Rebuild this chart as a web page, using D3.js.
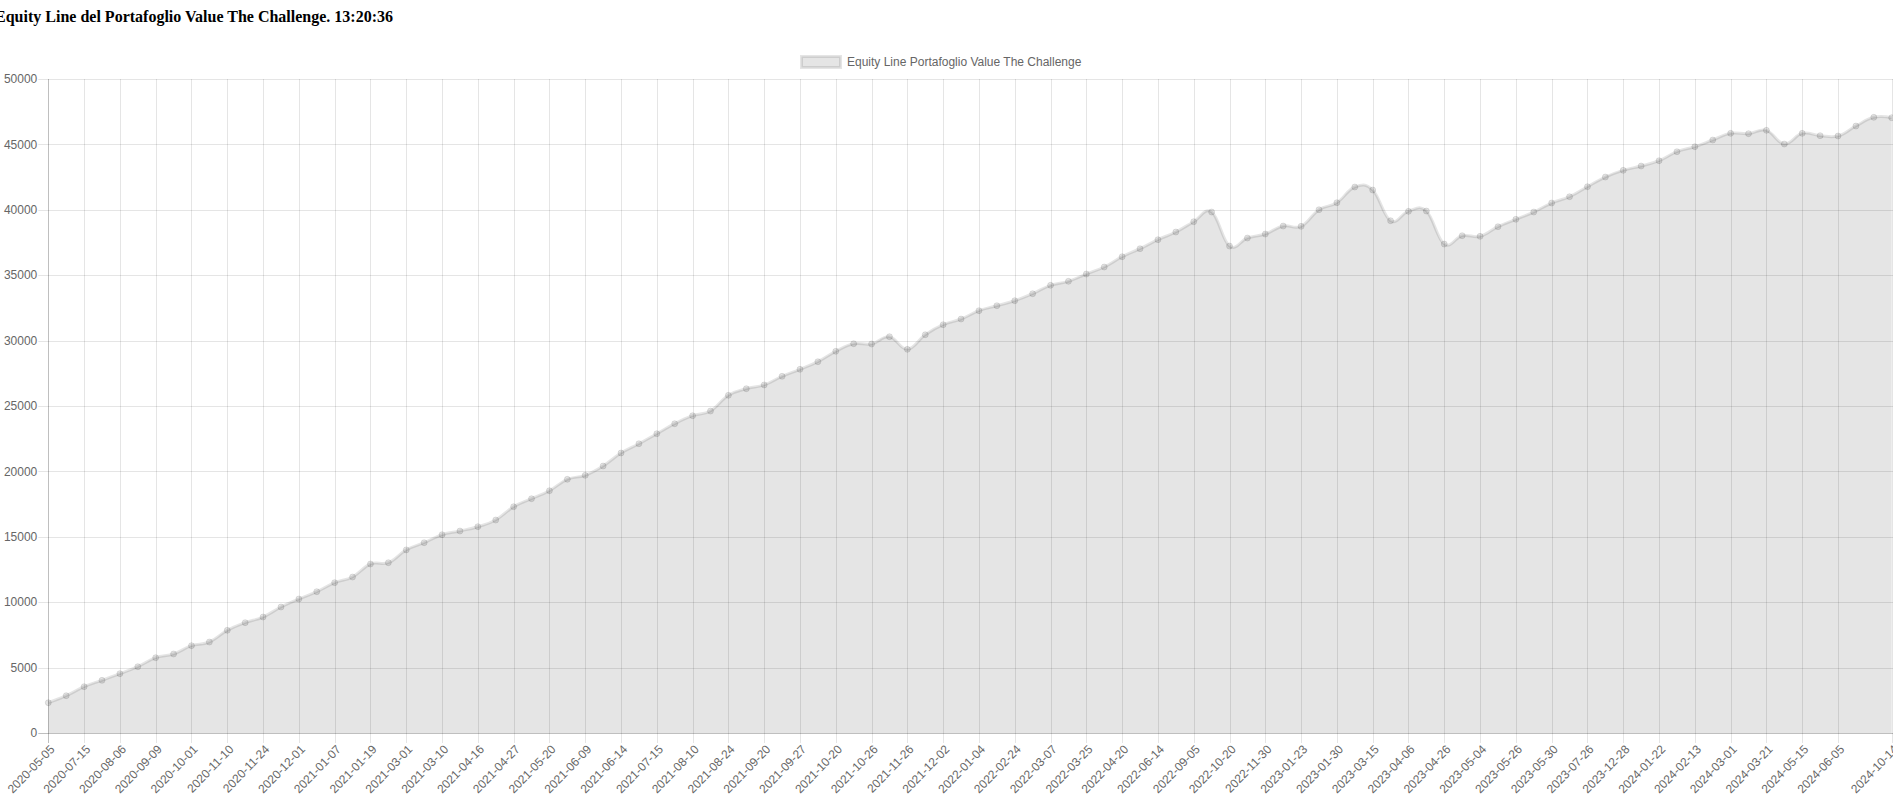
<!DOCTYPE html>
<html><head><meta charset="utf-8">
<script src="https://cdn.jsdelivr.net/npm/d3@7"></script>
<style>body{margin:0;background:#fff;overflow:hidden}</style>
</head><body><svg id="c" width="1893" height="805"></svg>
<script>
const title = "Equity Line del Portafoglio Value The Challenge. 13:20:36";
const seriesName = "Equity Line Portafoglio Value The Challenge";
const dates = [
"2020-05-05","2020-06-10","2020-07-15","2020-07-28","2020-08-06","2020-08-20","2020-09-09","2020-09-22",
"2020-10-01","2020-10-20","2020-11-10","2020-11-17","2020-11-24","2020-11-27","2020-12-01","2020-12-15",
"2021-01-07","2021-01-12","2021-01-19","2021-02-10","2021-03-01","2021-03-05","2021-03-10","2021-03-25",
"2021-04-16","2021-04-21","2021-04-27","2021-05-06","2021-05-20","2021-06-01","2021-06-09","2021-06-11",
"2021-06-14","2021-06-30","2021-07-15","2021-07-27","2021-08-10","2021-08-17","2021-08-24","2021-09-06",
"2021-09-20","2021-09-23","2021-09-27","2021-10-05","2021-10-20","2021-10-22","2021-10-26","2021-11-10",
"2021-11-26","2021-11-30","2021-12-02","2021-12-15","2022-01-04","2022-01-28","2022-02-24","2022-03-01",
"2022-03-07","2022-03-15","2022-03-25","2022-04-05","2022-04-20","2022-05-18","2022-06-14","2022-07-20",
"2022-09-05","2022-09-26","2022-10-20","2022-11-08","2022-11-30","2022-12-20","2023-01-23","2023-01-26",
"2023-01-30","2023-02-20","2023-03-15","2023-03-24","2023-04-06","2023-04-17","2023-04-26","2023-04-28",
"2023-05-04","2023-05-15","2023-05-26","2023-05-29","2023-05-30","2023-06-20","2023-07-26","2023-09-20",
"2023-12-28","2024-01-10","2024-01-22","2024-02-01","2024-02-13","2024-02-22","2024-03-01","2024-03-12",
"2024-03-21","2024-04-18","2024-05-15","2024-05-24","2024-06-05","2024-07-15","2024-09-02","2024-10-14"
];
const equity = [
2316,2852,3540,4028,4535,5070,5757,6040,6675,6957,
7850,8435,8868,9633,10244,10805,11494,11926,12920,13020,
14000,14549,15160,15443,15772,16284,17300,17912,18524,19395,
19700,20412,21406,22117,22882,23646,24258,24617,25817,26322,
26610,27270,27805,28387,29180,29762,29739,30297,29334,30450,
31215,31650,32285,32667,33050,33585,34227,34533,35090,35626,
36414,37026,37714,38302,39090,39830,37230,37842,38148,38760,
38735,40007,40542,41742,41513,39166,39884,39907,37384,38019,
37973,38707,39273,39830,40519,41001,41766,42506,43018,43347,
43752,44441,44823,45335,45846,45820,46076,45030,45846,45667,
45641,46405,47071,47040
];
const yTicks = [0,5000,10000,15000,20000,25000,30000,35000,40000,45000,50000];

const svg = d3.select("#c");
const pLeft = 48.3, pRight = 1891.7, pTop = 79, pBottom = 733;
const x = d3.scalePoint().domain(dates).range([pLeft, pRight]).padding(0);
const y = d3.scaleLinear().domain([0, 50000]).range([pBottom, pTop]);
const font = "'Liberation Sans', Arial, Helvetica, sans-serif";
const grid = "rgba(0,0,0,0.1)", zero = "rgba(0,0,0,0.25)";

// Chart.js-like auto-skip: every 2nd label, always the last one
const N = dates.length;
const shown = dates.filter((d, i) => (i === N - 1) || (i % 2 === 0 && i + 2 < N));

// title
svg.append("text").attr("x", 393).attr("y", 22).attr("text-anchor", "end")
  .attr("font-family", "'Liberation Serif', 'Times New Roman', serif")
  .attr("font-weight", "bold").attr("font-size", 16).attr("fill", "#000").text(title);

// legend
svg.append("rect").attr("x", 801.5).attr("y", 56.5).attr("width", 39).attr("height", 11)
  .attr("fill", "rgba(0,0,0,0.1)").attr("stroke", "rgba(0,0,0,0.1)").attr("stroke-width", 3);
svg.append("text").attr("x", 847).attr("y", 66).attr("font-family", font).attr("font-size", 12)
  .attr("fill", "#666").text(seriesName);

// horizontal grid
svg.append("g").selectAll("line").data(yTicks).join("line")
  .attr("x1", pLeft - 10).attr("x2", pRight + 2)
  .attr("y1", d => Math.round(y(d)) + 0.5).attr("y2", d => Math.round(y(d)) + 0.5)
  .attr("stroke", d => d === 0 ? zero : grid).attr("stroke-width", 1);
// vertical grid
svg.append("g").selectAll("line").data(shown).join("line")
  .attr("x1", d => Math.round(x(d)) + 0.5).attr("x2", d => Math.round(x(d)) + 0.5)
  .attr("y1", pTop).attr("y2", pBottom + 10)
  .attr("stroke", (d, i) => i === 0 ? zero : grid).attr("stroke-width", 1);

// y labels
svg.append("g").selectAll("text").data(yTicks).join("text")
  .attr("x", pLeft - 11).attr("y", d => y(d)).attr("dy", "0.35em").attr("text-anchor", "end")
  .attr("font-family", font).attr("font-size", 12).attr("fill", "#666").text(d => d);

// x labels
svg.append("g").selectAll("text").data(shown).join("text")
  .attr("transform", d => `translate(${x(d) + 4},${pBottom + 14}) rotate(-46)`)
  .attr("text-anchor", "end").attr("dy", "0.35em")
  .attr("font-family", font).attr("font-size", 12).attr("fill", "#666").text(d => d);

const curve = d3.curveCardinal.tension(-0.2);
const pts = dates.map((d, i) => [d, equity[i]]);
svg.append("path").datum(pts)
  .attr("d", d3.area().x(p => x(p[0])).y0(y(0)).y1(p => y(p[1])).curve(curve))
  .attr("fill", "rgba(0,0,0,0.1)");
svg.append("path").datum(pts)
  .attr("d", d3.line().x(p => x(p[0])).y(p => y(p[1])).curve(curve))
  .attr("fill", "none").attr("stroke", "rgba(0,0,0,0.1)").attr("stroke-width", 3);
svg.append("g").selectAll("circle").data(pts).join("circle")
  .attr("cx", p => x(p[0])).attr("cy", p => y(p[1])).attr("r", 3)
  .attr("fill", "rgba(0,0,0,0.1)").attr("stroke", "rgba(0,0,0,0.1)").attr("stroke-width", 1);
</script></body></html>
